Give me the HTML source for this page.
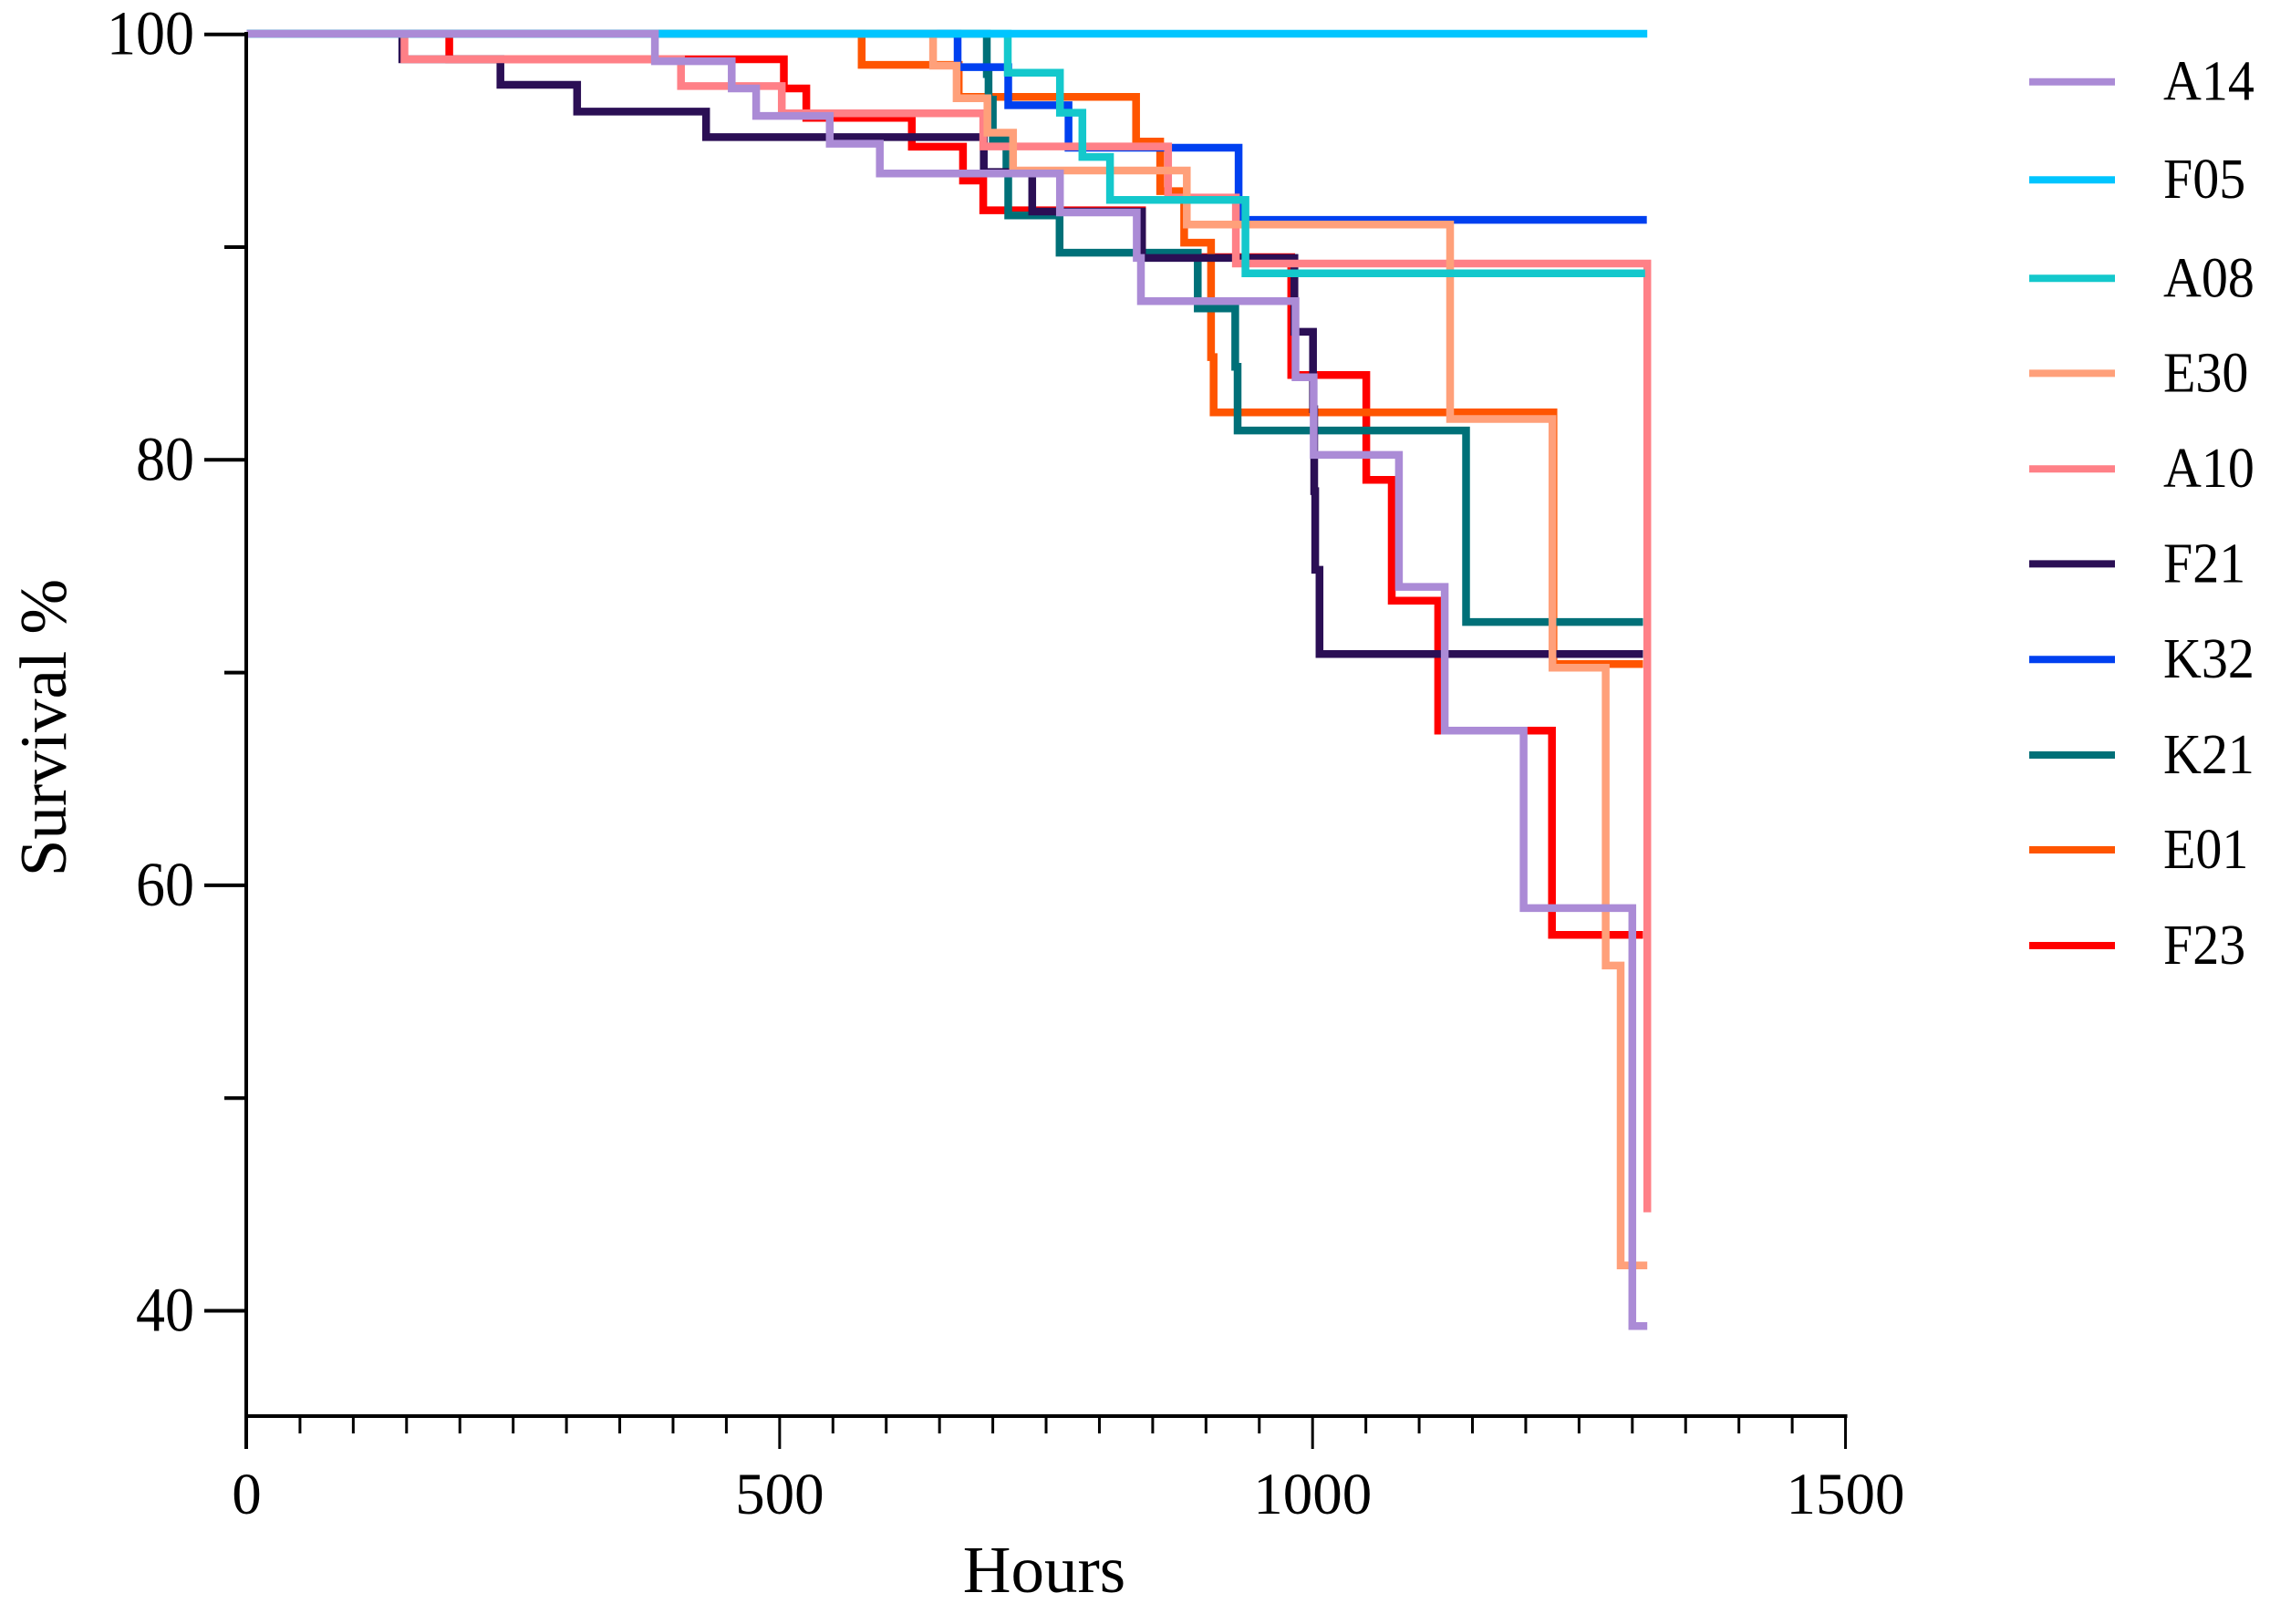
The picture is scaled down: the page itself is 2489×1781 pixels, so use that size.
<!DOCTYPE html>
<html lang="en">
<head>
<meta charset="utf-8">
<title>Survival chart</title>
<style>
html,body{margin:0;padding:0;background:#fff;}
body{width:2489px;height:1781px;overflow:hidden;}
svg{display:block;}
text{font-family:"Liberation Serif","Times New Roman",serif;fill:#000;}
</style>
</head>
<body>
<svg id="chart" xmlns="http://www.w3.org/2000/svg" width="2489" height="1781" viewBox="0 0 2489 1781">
  <rect width="2489" height="1781" fill="#ffffff"/>
  <g id="series-layer"></g>
  <g id="axis-layer"></g>
  <text x="1145" y="1746" font-size="73" text-anchor="middle">Hours</text>
  <text transform="translate(72,798) rotate(-90)" font-size="73" text-anchor="middle">Survival %</text>
  <g id="legend-layer">
    <line x1="2225" x2="2319" y1="89.7" y2="89.7" stroke="#ab8bd6" stroke-width="8"/>
    <text transform="translate(2372,109.7) scale(1,1.08)" font-size="58">A14</text>
    <line x1="2225" x2="2319" y1="197.2" y2="197.2" stroke="#00c5ff" stroke-width="8"/>
    <text transform="translate(2372,217.2) scale(1,1.08)" font-size="58">F05</text>
    <line x1="2225" x2="2319" y1="305.3" y2="305.3" stroke="#14c8cc" stroke-width="8"/>
    <text transform="translate(2372,325.3) scale(1,1.08)" font-size="58">A08</text>
    <line x1="2225" x2="2319" y1="409.4" y2="409.4" stroke="#ffa07a" stroke-width="8"/>
    <text transform="translate(2372,429.4) scale(1,1.08)" font-size="58">E30</text>
    <line x1="2225" x2="2319" y1="514.2" y2="514.2" stroke="#ff8087" stroke-width="8"/>
    <text transform="translate(2372,534.2) scale(1,1.08)" font-size="58">A10</text>
    <line x1="2225" x2="2319" y1="618.4" y2="618.4" stroke="#2b0f55" stroke-width="8"/>
    <text transform="translate(2372,638.4) scale(1,1.08)" font-size="58">F21</text>
    <line x1="2225" x2="2319" y1="723.2" y2="723.2" stroke="#0040f0" stroke-width="8"/>
    <text transform="translate(2372,743.2) scale(1,1.08)" font-size="58">K32</text>
    <line x1="2225" x2="2319" y1="828" y2="828" stroke="#007078" stroke-width="8"/>
    <text transform="translate(2372,848) scale(1,1.08)" font-size="58">K21</text>
    <line x1="2225" x2="2319" y1="932" y2="932" stroke="#ff5500" stroke-width="8"/>
    <text transform="translate(2372,952) scale(1,1.08)" font-size="58">E01</text>
    <line x1="2225" x2="2319" y1="1037" y2="1037" stroke="#ff0000" stroke-width="8"/>
    <text transform="translate(2372,1057) scale(1,1.08)" font-size="58">F23</text>
  </g>
</svg>
<script>
const xTickLabels = [0, 500, 1000, 1500];
const xMinorTicks = [50,100,150,200,250,300,350,400,450,550,600,650,700,750,800,850,900,950,1050,1100,1150,1200,1250,1300,1350,1400,1450];
const yTickLabels = [100, 80, 60, 40];
const yMinorTicks = [90, 70, 50];

const seriesNames = ['F23','E01','K21','K32','F21','A10','E30','A08','F05','A14'];

const f23Hours = [190,504,525,624,672,691,840,980,1050.4,1074.3,1117.8,1224.6];
const f23Survival = [98.8,97.43,96.05,94.69,93.1,91.7,89.5,83.96,79.03,73.35,67.24,57.64];
const f23End = 1310;

const e01Hours = [577,668,834.4,857,879.5,904.8,907.2,1226];
const e01Survival = [98.54,97.03,94.93,92.6,90.18,84.8,82.2,70.37];
const e01End = 1310;

const k21Hours = [694.4,696,700,712.8,714.5,762.6,892.3,927.4,929.7,1144];
const k21Survival = [98.1,96.9,95,93.5,91.46,89.71,87.09,84.34,81.35,72.35];
const k21End = 1310;

const k32Hours = [667,714.5,771,930.6];
const k32Survival = [98.43,96.64,94.64,91.25];
const k32End = 1313.6;

const f21Hours = [146,238,310,431,691.5,737,840,983,1000.4,1001.5,1002.5,1006.5];
const f21Survival = [98.8,97.6,96.34,95.14,93.5,91.64,89.46,85.99,82.35,78.5,74.8,70.84];
const f21End = 1310;

const a10Hours = [148,407.5,502,691,864.5,928,1314];
const a10Survival = [98.8,97.54,96.26,94.7,92.3,89.2,44.6];
const a10End = 1314;

const e30Hours = [644,666,695,719,882,1129,1225,1275,1289];
const e30Survival = [98.5,96.97,95.35,93.57,91.03,81.89,70.2,56.2,42.1];
const e30End = 1314;

const a08Hours = [714,763,784,810,937];
const a08Survival = [98.17,96.29,94.21,92.19,88.74];
const a08End = 1312;

const f05Hours = [];
const f05Survival = [];
const f05End = 1314;

const a14Hours = [383,455,478,547,594,763,835,839,984,1001,1081,1124,1198,1300];
const a14Survival = [98.71,97.43,96.14,94.83,93.43,91.6,89.46,87.43,83.85,80.2,74.0,67.24,58.9,39.25];
const a14End = 1314;

const seriesHours = {F23:f23Hours,E01:e01Hours,K21:k21Hours,K32:k32Hours,F21:f21Hours,A10:a10Hours,E30:e30Hours,A08:a08Hours,F05:f05Hours,A14:a14Hours};
const seriesSurvival = {F23:f23Survival,E01:e01Survival,K21:k21Survival,K32:k32Survival,F21:f21Survival,A10:a10Survival,E30:e30Survival,A08:a08Survival,F05:f05Survival,A14:a14Survival};
const seriesEnd = {F23:f23End,E01:e01End,K21:k21End,K32:k32End,F21:f21End,A10:a10End,E30:e30End,A08:a08End,F05:f05End,A14:a14End};
const seriesColor = {A14:'#ab8bd6',F05:'#00c5ff',A08:'#14c8cc',E30:'#ffa07a',A10:'#ff8087',F21:'#2b0f55',K32:'#0040f0',K21:'#007078',E01:'#ff5500',F23:'#ff0000'};

const NS = 'http://www.w3.org/2000/svg';
function xScale(h){ return 270.5 + h * 1.1687; }
function yScale(s){ return 37 + (100 - s) * 23.33; }
function make(tag, attrs, parent){
  const el = document.createElementNS(NS, tag);
  for (const k in attrs) el.setAttribute(k, attrs[k]);
  parent.appendChild(el);
  return el;
}

const seriesLayer = document.getElementById('series-layer');
seriesNames.forEach(function(name){
  const hours = seriesHours[name];
  const surv = seriesSurvival[name];
  let d = 'M' + xScale(0) + ' ' + yScale(100);
  hours.forEach(function(h, i){
    d += 'H' + xScale(h).toFixed(1) + 'V' + yScale(surv[i]).toFixed(1);
  });
  d += 'H' + xScale(seriesEnd[name]).toFixed(1);
  const p = make('path', {d:d, fill:'none', stroke:seriesColor[name], 'stroke-width':8.5, 'stroke-linejoin':'miter', 'stroke-linecap':'butt'}, seriesLayer);
  
  
});

const axisLayer = document.getElementById('axis-layer');
const baseY = 1553;
const axisX = 270;
const yLine = make('line', {x1:axisX, x2:axisX, y1:yScale(100)-2, y2:1589, stroke:'#000', 'stroke-width':4}, axisLayer);


const xLine = make('line', {x1:axisX-2, x2:xScale(1500)+2, y1:baseY, y2:baseY, stroke:'#000', 'stroke-width':4}, axisLayer);



xTickLabels.forEach(function(v){
  const t = make('line', {x1:xScale(v), x2:xScale(v), y1:baseY, y2:1589, stroke:'#000', 'stroke-width':3}, axisLayer);
  
  
  const l = make('text', {x:xScale(v), y:1660, 'font-size':65, 'text-anchor':'middle'}, axisLayer);
  l.textContent = String(v);
  
  
});
xMinorTicks.forEach(function(v){
  const t = make('line', {x1:xScale(v), x2:xScale(v), y1:baseY, y2:1572, stroke:'#000', 'stroke-width':3}, axisLayer);
  
  
});
yTickLabels.forEach(function(v){
  const y = yScale(v) + 0.7;
  const t = make('line', {x1:224, x2:axisX, y1:y, y2:y, stroke:'#000', 'stroke-width':4}, axisLayer);
  
  
  const l = make('text', {transform:'translate(213,' + (y + 22) + ') scale(1,1.07)', 'font-size':64, 'text-anchor':'end'}, axisLayer);
  l.textContent = String(v);
  
  
});
yMinorTicks.forEach(function(v){
  const y = yScale(v) + 0.7;
  const t = make('line', {x1:246, x2:axisX, y1:y, y2:y, stroke:'#000', 'stroke-width':4}, axisLayer);
  
  
});
</script>
</body>
</html>
